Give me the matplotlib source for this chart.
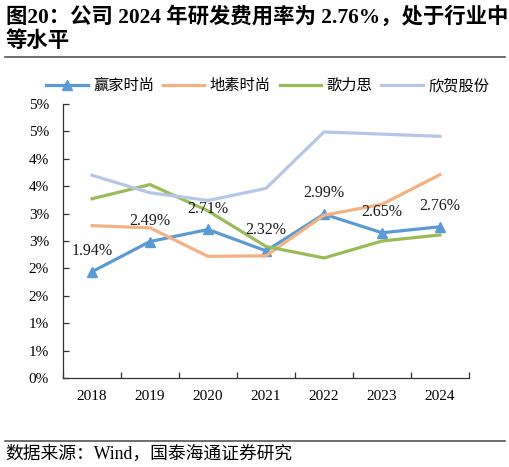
import matplotlib
matplotlib.use("Agg")
import matplotlib.pyplot as plt
from matplotlib.lines import Line2D

years = ["2018", "2019", "2020", "2021", "2022", "2023", "2024"]
yingjia = [1.94, 2.49, 2.71, 2.32, 2.99, 2.65, 2.76]
disu = [2.78, 2.74, 2.22, 2.23, 2.97, 3.17, 3.71]
gelisi = [3.27, 3.53, 3.05, 2.40, 2.19, 2.50, 2.61]
xinhe = [3.70, 3.38, 3.24, 3.46, 4.49, 4.45, 4.41]
series_names = ["赢家时尚", "地素时尚", "歌力思", "欣贺股份"]
y_ticks = [0, 0.5, 1.0, 1.5, 2.0, 2.5, 3.0, 3.5, 4.0, 4.5, 5.0]
y_tick_labels = ["0%", "1%", "1%", "2%", "2%", "3%", "3%", "4%", "4%", "5%", "5%"]

SERIF = ["Liberation Serif", "Noto Sans CJK SC"]
plt.rcParams["font.family"] = SERIF

W, H = 510, 467
fig = plt.figure(figsize=(W / 100, H / 100), dpi=100)
ax = fig.add_axes([63 / W, 1 - 378 / H, 406 / W, 274 / H])

x = list(range(len(years)))
colors = ["#5B9BD5", "#F4B183", "#9BBB59", "#B4C7E7"]
lw = 2.3
ax.plot(x, yingjia, color=colors[0], lw=lw, marker="^", markersize=7,
        label=series_names[0], zorder=3)
ax.plot(x, disu, color=colors[1], lw=lw, label=series_names[1], zorder=4)
ax.plot(x, gelisi, color=colors[2], lw=lw, label=series_names[2], zorder=5)
ax.plot(x, xinhe, color=colors[3], lw=lw, label=series_names[3], zorder=6)

for xi, v in zip(x, yingjia):
    ax.annotate(f"{v:.2f}%", (xi, v), xytext=(0, 15), textcoords="offset points",
                ha="center", va="center", fontsize=11.5, color="#1a1a1a", zorder=7)

ax.set_xlim(-0.5, len(years) - 0.5)
ax.set_ylim(0, 5)
ax.set_xticks(x)
ax.set_xticklabels(years)
ax.set_xticks([i - 0.5 for i in range(len(years) + 1)], minor=True)
ax.set_yticks(y_ticks)
ax.set_yticklabels(y_tick_labels)

ax.tick_params(axis="x", which="major", length=0, pad=9, labelsize=11)
ax.tick_params(axis="x", which="minor", direction="in", length=4, width=0.9, color="#333333")
ax.tick_params(axis="y", direction="in", length=4, width=0.9, color="#333333", pad=10, labelsize=11)

for s in ["top", "right"]:
    ax.spines[s].set_visible(False)
for s in ["left", "bottom"]:
    ax.spines[s].set_color("#333333")
    ax.spines[s].set_linewidth(0.9)

fig.legend(loc="center", bbox_to_anchor=(0.525, 1 - 86 / H), ncol=4, frameon=False,
           handlelength=2.7, handletextpad=0.35, columnspacing=0.6,
           prop={"family": SERIF, "size": 11})

fig.text(6 / W, 1 - 17 / H, "图20：公司 2024 年研发费用率为 2.76%，处于行业中",
         fontsize=15.4, fontweight="bold", va="center", ha="left")
fig.text(6 / W, 1 - 42 / H, "等水平", fontsize=15.4, fontweight="bold",
         va="center", ha="left")

fig.add_artist(Line2D([5 / W, 505 / W], [1 - 57 / H] * 2, transform=fig.transFigure,
                      color="#555555", lw=1.2))
fig.add_artist(Line2D([5 / W, 505 / W], [1 - 441 / H] * 2, transform=fig.transFigure,
                      color="#555555", lw=1.2))

fig.text(5 / W, 1 - 454 / H, "数据来源：Wind，国泰海通证券研究", fontsize=12.8,
         va="center", ha="left")

fig.savefig("out.png", dpi=100)
